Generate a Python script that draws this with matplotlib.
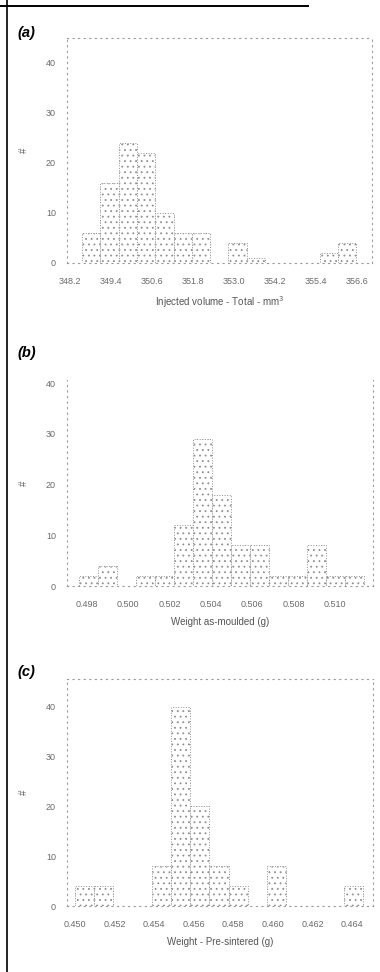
import numpy as np
import matplotlib
matplotlib.use("Agg")
import matplotlib.pyplot as plt
from matplotlib.lines import Line2D

# (a) injected volume, mm3
vol_ticks = [348.2, 349.4, 350.6, 351.8, 353.0, 354.2, 355.4, 356.6]
vol_bin_lo, vol_bin_w = 348.551, 0.5356
vol_counts = [6, 16, 24, 22, 10, 6, 6, 0, 4, 1, 0, 0, 0, 2, 4]

# (b) weight as-moulded, g
mould_ticks = [0.498, 0.500, 0.502, 0.504, 0.506, 0.508, 0.510]
mould_bin_lo, mould_bin_w = 0.497613, 0.00092
mould_counts = [2, 4, 0, 2, 2, 12, 29, 18, 8, 8, 2, 2, 8, 2, 2]

# (c) weight pre-sintered, g
pre_ticks = [0.450, 0.452, 0.454, 0.456, 0.458, 0.460, 0.462, 0.464]
pre_bin_lo, pre_bin_w = 0.450, 0.00097
pre_counts = [4, 4, 0, 0, 8, 40, 20, 8, 4, 0, 8, 0, 0, 0, 4]

plt.rcParams["font.family"] = ["Liberation Sans", "DejaVu Sans"]
plt.rcParams["hatch.linewidth"] = 0.6

W, H = 380, 972
fig = plt.figure(figsize=(W / 100, H / 100), dpi=100)


def px_axes(left, top, right, bottom):
    return fig.add_axes([left / W, 1 - bottom / H, (right - left) / W, (bottom - top) / H])


panels = [
    # tag, box(px), xlim, ylim, ticks, fmt, lo, w, counts, xlabel, show top spine, label y px
    ("(a)", (67, 38, 372, 263), (348.11, 357.04), 45, vol_ticks, "{:.1f}",
     vol_bin_lo, vol_bin_w, vol_counts, "Injected volume - Total - mm$^3$", True, 33),
    ("(b)", (67, 380, 373, 586), (0.49703, 0.51185), 40.6, mould_ticks, "{:.3f}",
     mould_bin_lo, mould_bin_w, mould_counts, "Weight as-moulded (g)", False, 353),
    ("(c)", (67, 679, 373, 906), (0.44960, 0.46505), 45.6, pre_ticks, "{:.3f}",
     pre_bin_lo, pre_bin_w, pre_counts, "Weight - Pre-sintered (g)", True, 672),
]

for tag, box, xlim, ytop, ticks, fmt, lo, w, counts, xlabel, top, ly in panels:
    ax = px_axes(*box)
    edges = lo + w * np.arange(len(counts))
    ax.bar(edges, counts, width=w, align="edge", facecolor="white",
           edgecolor="#8f8f8f", hatch="...", linewidth=0.7, linestyle=":")
    ax.set_xlim(*xlim)
    ax.set_ylim(0, ytop)
    ax.set_xticks(ticks, [fmt.format(t) for t in ticks])
    ax.set_yticks([0, 10, 20, 30, 40])
    ax.tick_params(axis="both", length=0, labelsize=6.5, colors="#6a6a6a")
    ax.tick_params(axis="x", pad=10)
    ax.tick_params(axis="y", pad=8)
    for name, sp in ax.spines.items():
        sp.set_linestyle((0, (1, 4)))
        sp.set_color("#9a9a9a")
        sp.set_linewidth(0.8)
    ax.spines["top"].set_visible(top)
    ax.set_xlabel(xlabel, fontsize=7, color="#555555", labelpad=6)
    ax.set_ylabel("#", fontsize=7, color="#666666", rotation=90)
    ax.yaxis.set_label_coords(-0.125, 0.5)
    fig.text(17 / W, 1 - ly / H, tag, fontsize=10.5, fontweight="bold",
             fontstyle="italic", va="center", ha="left")

# scanned page frame
fig.add_artist(Line2D([7 / W, 7 / W], [0, 1], color="black", lw=1.2))
fig.add_artist(Line2D([0, 308 / W], [1 - 6 / H, 1 - 6 / H], color="black", lw=1.4))

fig.savefig("out.png", dpi=100)
